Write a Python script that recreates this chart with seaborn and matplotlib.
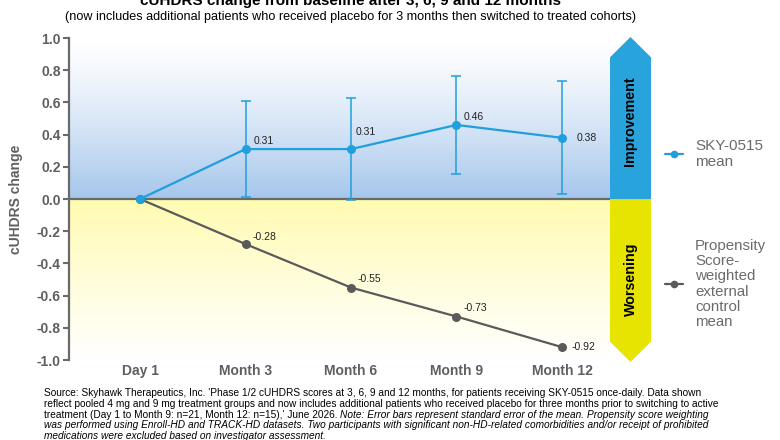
import numpy as np
import pandas as pd
import matplotlib
matplotlib.use("Agg")
import matplotlib.pyplot as plt
import seaborn as sns
from matplotlib.patches import Polygon

labels = ["Day 1", "Month 3", "Month 6", "Month 9", "Month 12"]
sky_mean = [0.0, 0.31, 0.31, 0.46, 0.38]
sky_se = [0.0, 0.30, 0.315, 0.305, 0.35]
ctrl_mean = [0.0, -0.28, -0.55, -0.73, -0.92]
sky_lbl = ["", "0.31", "0.31", "0.46", "0.38"]
ctrl_lbl = ["", "-0.28", "-0.55", "-0.73", "-0.92"]

sns.set_style("white")
plt.rcParams["font.family"] = ["Liberation Sans", "DejaVu Sans"]

BLUE = "#1f9fdc"
GREY = "#5a5a5a"
TXT = "#5f5f5f"

df = pd.DataFrame({"x": range(len(labels)), "sky": sky_mean, "ctrl": ctrl_mean})

fig = plt.figure(figsize=(7.8, 4.4), dpi=100)
ax = fig.add_axes([69 / 780, 1 - 360 / 440, 541 / 780, 322 / 440])
x0, x1 = -0.673, 4.455
ax.set_xlim(x0, x1)
ax.set_ylim(-1.0, 1.0)

# gradient backgrounds
t = np.linspace(0, 1, 256)[:, None]
blue_top = np.array([1.0, 1.0, 1.0])
blue_bot = np.array([165, 198, 236]) / 255
grad_b = blue_top + (blue_bot - blue_top) * t ** 1.3
grad_b = np.repeat(grad_b[:, None, :], 2, axis=1)
ax.imshow(grad_b, extent=[x0, x1, 0, 1], aspect="auto", origin="upper", zorder=0)
yel_top = np.array([255, 251, 175]) / 255
yel_bot = np.array([1.0, 1.0, 1.0])
grad_y = yel_top + (yel_bot - yel_top) * t ** 0.9
grad_y = np.repeat(grad_y[:, None, :], 2, axis=1)
ax.imshow(grad_y, extent=[x0, x1, -1, 0], aspect="auto", origin="upper", zorder=0)
ax.axhline(0, color="#6a6a6a", lw=1.6, zorder=1)

sns.lineplot(data=df, x="x", y="ctrl", ax=ax, color=GREY, lw=1.6, marker="o",
             markersize=6.5, markeredgewidth=0, zorder=3)
sns.lineplot(data=df, x="x", y="sky", ax=ax, color=BLUE, lw=1.6, marker="o",
             markersize=6.5, markeredgewidth=0, zorder=4)
ax.errorbar(df["x"][1:], df["sky"][1:], yerr=sky_se[1:], fmt="none", ecolor=BLUE,
            elinewidth=1.1, capsize=3.5, capthick=1.1, zorder=3)

sky_off = [(0, 0), (8, 8), (5, 17), (7, 8), (15, 0)]
ctrl_off = [(0, 0), (7, 7), (7, 9), (7, 9), (10, 0)]
for i in range(1, len(labels)):
    ax.annotate(sky_lbl[i], (i, sky_mean[i]), xytext=(sky_off[i][0] * 0.72, sky_off[i][1] * 0.72),
                textcoords="offset points", ha="left", va="center", fontsize=7.5, color="#222222")
    ax.annotate(ctrl_lbl[i], (i, ctrl_mean[i]), xytext=(ctrl_off[i][0] * 0.72, ctrl_off[i][1] * 0.72),
                textcoords="offset points", ha="left", va="center", fontsize=7.5, color="#222222")

yt = np.round(np.arange(-1.0, 1.01, 0.2), 1)
ax.set_yticks(yt)
ax.set_yticklabels([f"{v:.1f}".replace("-0.0", "0.0") for v in yt], fontsize=10,
                   fontweight="bold", color=TXT)
ax.set_xticks(range(len(labels)))
ax.set_xticklabels(labels, fontsize=10, fontweight="bold", color=TXT)
ax.tick_params(axis="x", length=0, pad=3)
ax.tick_params(axis="y", length=4, width=1.5, color="#6a6a6a", pad=2, direction="out", left=True)
ax.set_xlabel("")
ax.set_ylabel("cUHDRS change", fontsize=10, fontweight="bold", color=TXT)
ax.yaxis.set_label_coords(-0.085, 0.5)
for s in ["top", "right", "bottom"]:
    ax.spines[s].set_visible(False)
ax.spines["left"].set_color("#6a6a6a")
ax.spines["left"].set_linewidth(1.6)

# improvement / worsening arrow
aa = fig.add_axes([610 / 780, 1 - 362 / 440, 41 / 780, 325 / 440])
aa.set_xlim(0, 1)
aa.set_ylim(-1, 1)
aa.axis("off")
tip = 0.125
aa.add_patch(Polygon([(0, 0), (0, 1 - tip), (0.5, 1), (1, 1 - tip), (1, 0)],
                     closed=True, facecolor="#29a3db", edgecolor="none"))
aa.add_patch(Polygon([(0, 0), (0, -1 + tip), (0.5, -1), (1, -1 + tip), (1, 0)],
                     closed=True, facecolor="#e6e400", edgecolor="none"))
aa.text(0.5, 0.48, "Improvement", rotation=90, ha="center", va="center",
        fontsize=10.3, fontweight="bold", color="black")
aa.text(0.5, -0.49, "Worsening", rotation=90, ha="center", va="center",
        fontsize=10.3, fontweight="bold", color="black")

# legend
la = fig.add_axes([0, 0, 1, 1], facecolor="none")
la.set_xlim(0, 780)
la.set_ylim(440, 0)
la.axis("off")
la.plot([665, 683], [154, 154], color=BLUE, lw=1.6)
la.plot([674], [154], "o", color=BLUE, ms=5.5, mew=0)
la.text(695, 154, "SKY-0515\nmean", ha="left", va="center", fontsize=11,
        color="#6b6b6b", linespacing=1.12)
la.plot([665, 683], [284, 284], color=GREY, lw=1.6)
la.plot([674], [284], "o", color=GREY, ms=5.5, mew=0)
la.text(695, 284, "Propensity\nScore-\nweighted\nexternal\ncontrol\nmean", ha="left",
        va="center", fontsize=10.8, color="#6b6b6b", linespacing=1.1)

# title (partly cut off at top) and subtitle
la.text(351, 5, "cUHDRS change from baseline after 3, 6, 9 and 12 months", ha="center",
        va="baseline", fontsize=11, fontweight="bold", color="black")
la.text(351, 17, "(now includes additional patients who received placebo for 3 months then switched to treated cohorts)",
        ha="center", va="center", fontsize=9.1, color="black")

# footer
fs = 7.3
ys = [393, 403.8, 414.6, 425.4, 436.2]
la.text(44, ys[0], "Source: Skyhawk Therapeutics, Inc. 'Phase 1/2 cUHDRS scores at 3, 6, 9 and 12 months, "
        "for patients receiving SKY-0515 once-daily. Data shown", ha="left", va="center",
        fontsize=fs, color="black")
la.text(44, ys[1], "reflect pooled 4 mg and 9 mg treatment groups and now includes additional patients who "
        "received placebo for three months prior to switching to active", ha="left", va="center",
        fontsize=fs, color="black")
t3 = la.text(44, ys[2], "treatment (Day 1 to Month 9: n=21, Month 12: n=15),' June 2026. ", ha="left",
             va="center", fontsize=fs, color="black")
la.annotate("Note: Error bars represent standard error of the mean. Propensity score weighting",
            xy=(1, 0.5), xycoords=t3, ha="left", va="center", fontsize=fs,
            style="italic", color="black")
la.text(44, ys[3], "was performed using Enroll-HD and TRACK-HD datasets. Two participants with significant "
        "non-HD-related comorbidities and/or receipt of prohibited", ha="left", va="center",
        fontsize=fs, style="italic", color="black")
la.text(44, ys[4], "medications were excluded based on investigator assessment.", ha="left", va="center",
        fontsize=fs, style="italic", color="black")

fig.savefig("out.png", dpi=100)
